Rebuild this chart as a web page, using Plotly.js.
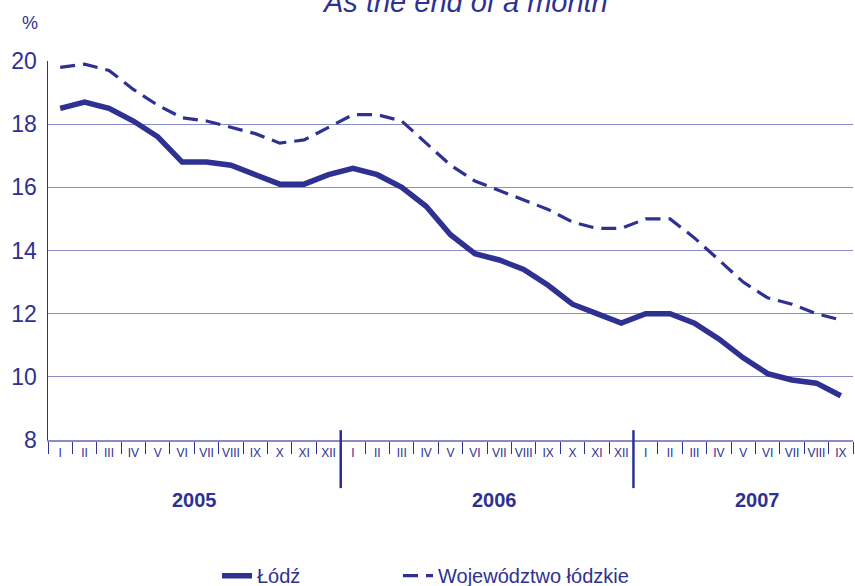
<!DOCTYPE html>
<html>
<head>
<meta charset="utf-8">
<script src="https://cdn.plot.ly/plotly-3.0.1.min.js"></script>
<style>
html,body{margin:0;padding:0;background:#fff;}
#chart{width:855px;height:586px;}
</style>
</head>
<body>
<div id="chart"></div>
<script>
// ---- data ----
const months = ["I","II","III","IV","V","VI","VII","VIII","IX","X","XI","XII",
                "I","II","III","IV","V","VI","VII","VIII","IX","X","XI","XII",
                "I","II","III","IV","V","VI","VII","VIII","IX"];
const years = ["2005","2006","2007"];
const lodz = [18.5,18.7,18.5,18.1,17.6,16.8,16.8,16.7,16.4,16.1,16.1,16.4,
              16.6,16.4,16.0,15.4,14.5,13.9,13.7,13.4,12.9,12.3,12.0,11.7,
              12.0,12.0,11.7,11.2,10.6,10.1,9.9,9.8,9.4];
const woj = [19.8,19.9,19.7,19.1,18.6,18.2,18.1,17.9,17.7,17.4,17.5,17.9,
             18.3,18.3,18.1,17.4,16.7,16.2,15.9,15.6,15.3,14.9,14.7,14.7,
             15.0,15.0,14.4,13.7,13.0,12.5,12.3,12.0,11.8];
const seriesNames = ["Łódź","Województwo łódzkie"];
const titleText = "As the end of a month";
const unitText = "%";

// ---- build ----
const C = "#2e3192";
const GRID = "#8a8cc6";
const FONT = "Liberation Sans, Arial, sans-serif";
const idx = months.map((_, i) => i);
const boundaries = [];
for (let i = 0; i <= months.length; i++) boundaries.push(i - 0.5);

const traces = [
  {x: idx, y: lodz, name: seriesNames[0], type: "scatter", mode: "lines",
   line: {color: C, width: 5.5}, legend: "legend"},
  {x: idx, y: woj, name: seriesNames[1], type: "scatter", mode: "lines",
   line: {color: C, width: 3.2, dash: "15px,8px"}, legend: "legend2"}
];

const yearX = [5.5, 17.8, 28.6];
const annotations = years.map((y, k) => ({
  text: "<b>" + y + "</b>", x: yearX[k], xref: "x", xanchor: "center",
  y: -0.158, yref: "paper", yanchor: "middle",
  showarrow: false, font: {family: FONT, size: 20, color: C}
}));
annotations.push({text: titleText, x: 0.518, xref: "paper", xanchor: "center",
  y: 1.156, yref: "paper", yanchor: "middle", showarrow: false,
  font: {family: FONT, size: 29, color: C, style: "italic"}});
annotations.push({text: unitText, x: -0.022, xref: "paper", xanchor: "center",
  y: 1.1, yref: "paper", yanchor: "middle", showarrow: false,
  font: {family: FONT, size: 18, color: C}});

const shapes = [11.5, 23.5].map(v => ({
  type: "line", xref: "x", yref: "paper", x0: v, x1: v, y0: 0.026, y1: -0.127,
  line: {color: C, width: 2.5}
}));

const legFont = {family: FONT, size: 20, color: C};
const layout = {
  width: 855, height: 586,
  margin: {l: 48, r: 2, t: 61, b: 146, autoexpand: false},
  paper_bgcolor: "#fff", plot_bgcolor: "#fff",
  showlegend: true,
  legend: {orientation: "h", x: (217 - 48) / 805, xanchor: "left", y: -0.358, yanchor: "middle",
           font: legFont, itemwidth: 30, bgcolor: "rgba(0,0,0,0)"},
  legend2: {orientation: "h", x: (398 - 48) / 805, xanchor: "left", y: -0.358, yanchor: "middle",
           font: legFont, itemwidth: 30, bgcolor: "rgba(0,0,0,0)"},
  xaxis: {range: [-0.5, months.length - 0.5], tickvals: idx, ticktext: months,
          ticks: "", showgrid: false, zeroline: false,
          showline: true, linecolor: GRID, linewidth: 1.5,
          ticklabelstandoff: 1,
          tickfont: {family: FONT, size: 12, color: C},
          minor: {tickvals: boundaries, ticks: "outside", ticklen: 12, tickcolor: C, tickwidth: 1, showgrid: false},
          fixedrange: true},
  yaxis: {range: [8, 20], dtick: 2, tick0: 8, showgrid: true, gridcolor: GRID, gridwidth: 1.3,
          zeroline: false, showline: true, linecolor: C, linewidth: 1.5, ticks: "",
          ticklabelstandoff: 5,
          tickfont: {family: FONT, size: 23, color: C}, fixedrange: true},
  annotations: annotations,
  shapes: shapes
};

Plotly.newPlot("chart", traces, layout, {displayModeBar: false, staticPlot: true});
</script>
</body>
</html>
